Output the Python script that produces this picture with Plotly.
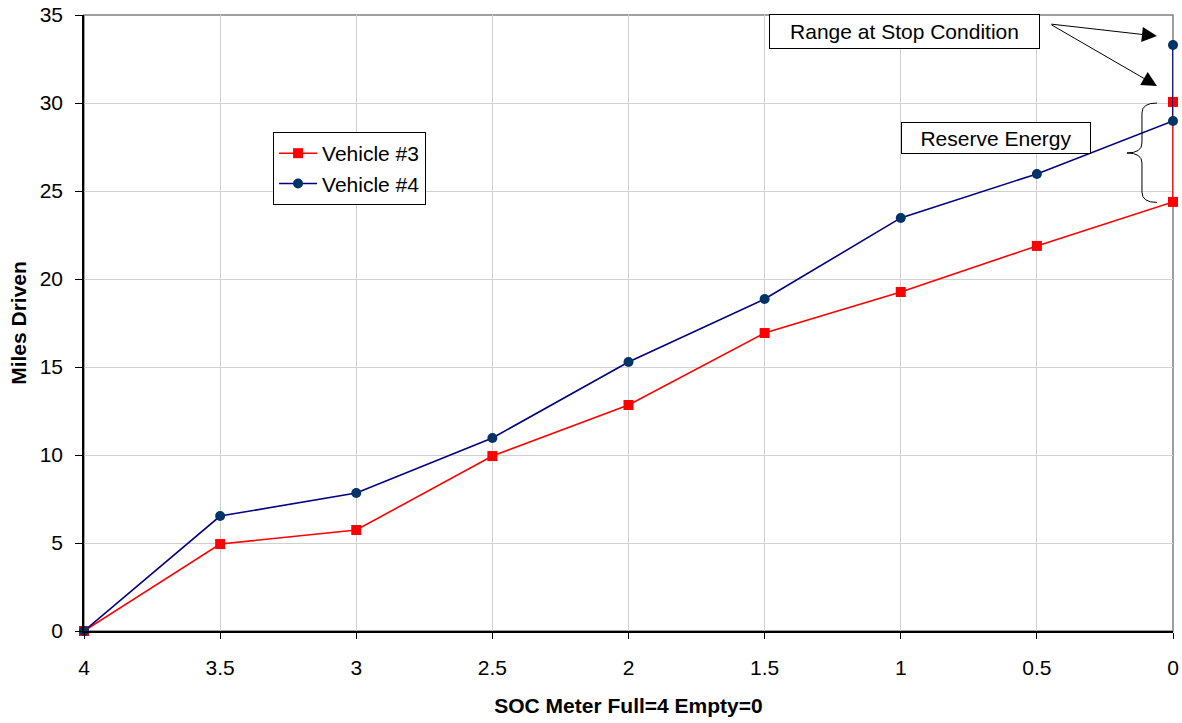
import plotly.graph_objects as go

soc = [4, 3.5, 3, 2.5, 2, 1.5, 1, 0.5, 0, 0]
veh3 = [0, 4.94, 5.74, 9.94, 12.84, 16.93, 19.26, 21.88, 24.38, 30.06]
veh4 = [0, 6.53, 7.84, 10.97, 15.28, 18.86, 23.47, 25.97, 28.98, 33.3]
x_ticks = [4, 3.5, 3, 2.5, 2, 1.5, 1, 0.5, 0]
x_tick_labels = ["4", "3.5", "3", "2.5", "2", "1.5", "1", "0.5", "0"]
y_ticks = [0, 5, 10, 15, 20, 25, 30, 35]

FONT = "Liberation Sans, Arial, sans-serif"
FS = 21

fig = go.Figure()
fig.add_trace(go.Scatter(
    x=soc, y=veh3, name="Vehicle #3", mode="lines+markers",
    line=dict(color="#FF0000", width=1.6),
    marker=dict(symbol="square", size=10, color="#FF0000"),
    cliponaxis=False,
))
fig.add_trace(go.Scatter(
    x=soc, y=veh4, name="Vehicle #4", mode="lines+markers",
    line=dict(color="#000080", width=1.6),
    marker=dict(symbol="circle", size=10, color="#003366"),
    cliponaxis=False,
))

# plot-area border (gray top/right)
fig.add_shape(type="rect", xref="paper", yref="paper", x0=0, x1=1, y0=0, y1=1,
              line=dict(color="#808080", width=1.5), layer="below")

# curly brace for reserve energy
bx_end, bx_mid, bx_tip = 0.059, 0.114, 0.169
brace = (f"M {bx_end},30.0 Q {bx_mid},30.0 {bx_mid},29.43 L {bx_mid},27.73 "
         f"Q {bx_mid},27.16 {bx_tip},27.16 Q {bx_mid},27.16 {bx_mid},26.59 "
         f"L {bx_mid},24.94 Q {bx_mid},24.35 {bx_end},24.35")
fig.add_shape(type="path", xref="x", yref="y", path=brace,
              line=dict(color="black", width=1))

# annotations
fig.add_annotation(x=0.986, y=34.09, xref="x", yref="y", text="Range at Stop Condition",
                   showarrow=False, font=dict(family=FONT, size=FS, color="black"),
                   width=265, height=29, borderpad=2,
                   bordercolor="black", borderwidth=1, bgcolor="white")
for hy in (33.8, 30.97):
    fig.add_annotation(x=0.059, y=hy, xref="x", yref="y", ax=0.452, ay=34.49,
                       axref="x", ayref="y", text="", showarrow=True,
                       arrowhead=2, arrowsize=3, arrowwidth=1, arrowcolor="black",
                       standoff=0, startstandoff=0)
fig.add_annotation(x=0.650, y=28.04, xref="x", yref="y", text="Reserve Energy",
                   showarrow=False, font=dict(family=FONT, size=FS, color="black"),
                   width=184, height=26, borderpad=2,
                   bordercolor="black", borderwidth=1, bgcolor="white")

fig.update_layout(
    margin=dict(l=84, r=9, t=15, b=92, autoexpand=False),
    paper_bgcolor="white", plot_bgcolor="white",
    font=dict(family=FONT, size=FS, color="black"),
    showlegend=True,
    legend=dict(x=0.1736, y=0.81, xanchor="left", yanchor="top",
                bordercolor="black", borderwidth=1, bgcolor="white",
                font=dict(family=FONT, size=FS, color="black"),
                tracegroupgap=0, itemwidth=38),
    xaxis=dict(
        range=[4, 0], tickvals=x_ticks, ticktext=x_tick_labels,
        showgrid=True, gridcolor="#D0D0D0", gridwidth=1,
        showline=True, linecolor="black", linewidth=1.5,
        ticks="outside", ticklen=6, tickcolor="black",
        ticklabelstandoff=11, zeroline=False, automargin=False,
        tickfont=dict(family=FONT, size=FS),
        title=dict(text="<b>SOC Meter Full=4 Empty=0</b>", font=dict(family=FONT, size=FS), standoff=20),
    ),
    yaxis=dict(
        range=[0, 35], tickvals=y_ticks,
        showgrid=True, gridcolor="#D0D0D0", gridwidth=1,
        showline=True, linecolor="black", linewidth=1.5,
        ticks="outside", ticklen=7, tickcolor="black",
        ticklabelstandoff=8, zeroline=False, automargin=False,
        tickfont=dict(family=FONT, size=FS),
        title=dict(text="<b>Miles Driven</b>", font=dict(family=FONT, size=FS), standoff=7),
    ),
)

fig.write_html("out.html")
